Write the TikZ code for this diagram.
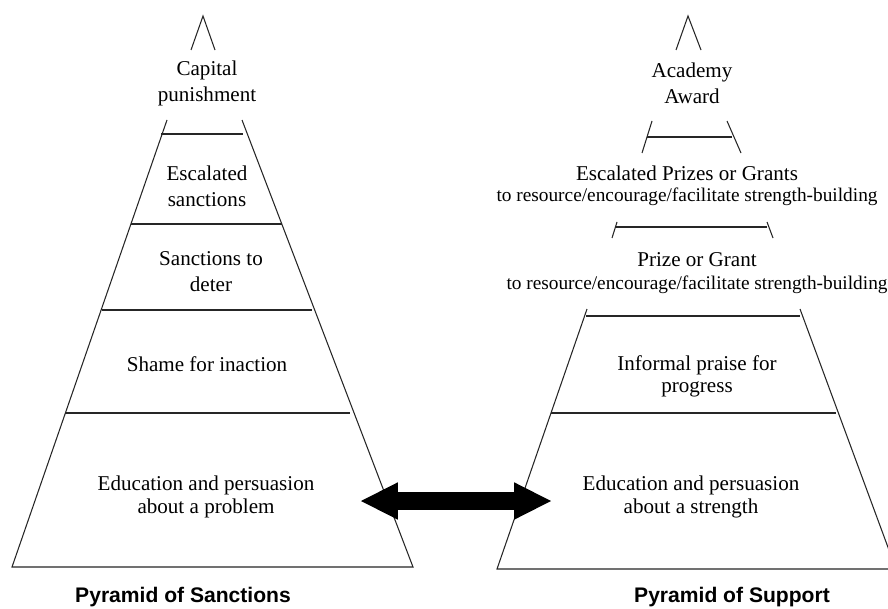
\documentclass[tikz,border=0pt]{standalone}
\usepackage{fontspec}
\setmainfont{Liberation Serif}
\newfontfamily\titlefont{Liberation Sans}
\usetikzlibrary{arrows.meta,positioning}
\tikzset{pyrline/.style={draw=black!85, line width=0.6pt},
  lvl/.style={align=center, inner sep=0pt, font=\fontsize{12}{12.8}\selectfont},
  lvlwide/.style={lvl, font=\fontsize{12}{14.8}\selectfont},
  sub/.style={align=center, inner sep=0pt, font=\fontsize{11}{12}\selectfont},
  pyrtitle/.style={inner sep=0pt, font=\titlefont\bfseries\fontsize{12}{14}\selectfont},
  dblarrow/.style={black, line width=10.2pt, {Triangle[width=19.5pt,length=21.5pt]}-{Triangle[width=19.5pt,length=21.5pt]}}}

\begin{document}
\begin{tikzpicture}[x=0.02cm, y=-0.02cm]
   \clip (0,0) rectangle (888,608);
   \fill[white] (0,0) rectangle (888,608);
   % sanctions
   \begin{scope}[every path/.append style={pyrline}]
    \draw (191,50) -- (203,16) -- (215,50);
    \draw (167,120) -- (12,567) -- (413,567) -- (242,120);
    \draw (161,134) -- (243,134);
    \draw (131,224) -- (282,224);
    \draw (102,310) -- (312,310);
    \draw (65,413) -- (350,413);
   \end{scope}
   \node[lvlwide] (cap) at (207,83.5) {Capital\\punishment};
   \node[lvlwide] (esc) at (207,186) {Escalated\\sanctions};
   \node[lvlwide] (det) at (211,272) {Sanctions to\\deter};
   \node[lvl] (shame) at (207,364) {Shame for inaction};
   \node[lvl] (eduL) at (206,497) {Education and persuasion\\about a problem};
   \node[pyrtitle] (titleL) at (183,597) {Pyramid of Sanctions};
   % support
   \begin{scope}[every path/.append style={pyrline}]
    \draw (676,50) -- (688,16) -- (701,50);
    \draw (652,121) -- (642,153);
    \draw (727,121) -- (741,153);
    \draw (647,137) -- (732,137);
    \draw (617,222) -- (612,238);
    \draw (767,222) -- (773,238);
    \draw (616,227) -- (767,227);
    \draw (587,309) -- (497,569) -- (900,569);
    \draw (800,309) -- (896,569);
    \draw (586,316) -- (800,316);
    \draw (551,413) -- (836,413);
   \end{scope}
   \node[lvlwide] (award) at (692,83.5) {Academy\\Award};
   \node[lvl] (prizes) at (687,173) {Escalated Prizes or Grants};
   \node[sub] (prizesub) at (687,197) {to resource/encourage/facilitate strength-building};
   \node[lvl] (grant) at (697,260) {Prize or Grant};
   \node[sub] (grantsub) at (697,285) {to resource/encourage/facilitate strength-building};
   \node[lvl] (praise) at (697,376.5) {Informal praise for\\progress};
   \node[lvl] (eduR) at (691,497) {Education and persuasion\\about a strength};
   \node[pyrtitle] (titleR) at (732,597) {Pyramid of Support};
   \coordinate (tipL) at (360,501);
   \coordinate (tipR) at (552,501);
   \draw[dblarrow] (tipL) -- (tipR);
\end{tikzpicture}
\end{document}
